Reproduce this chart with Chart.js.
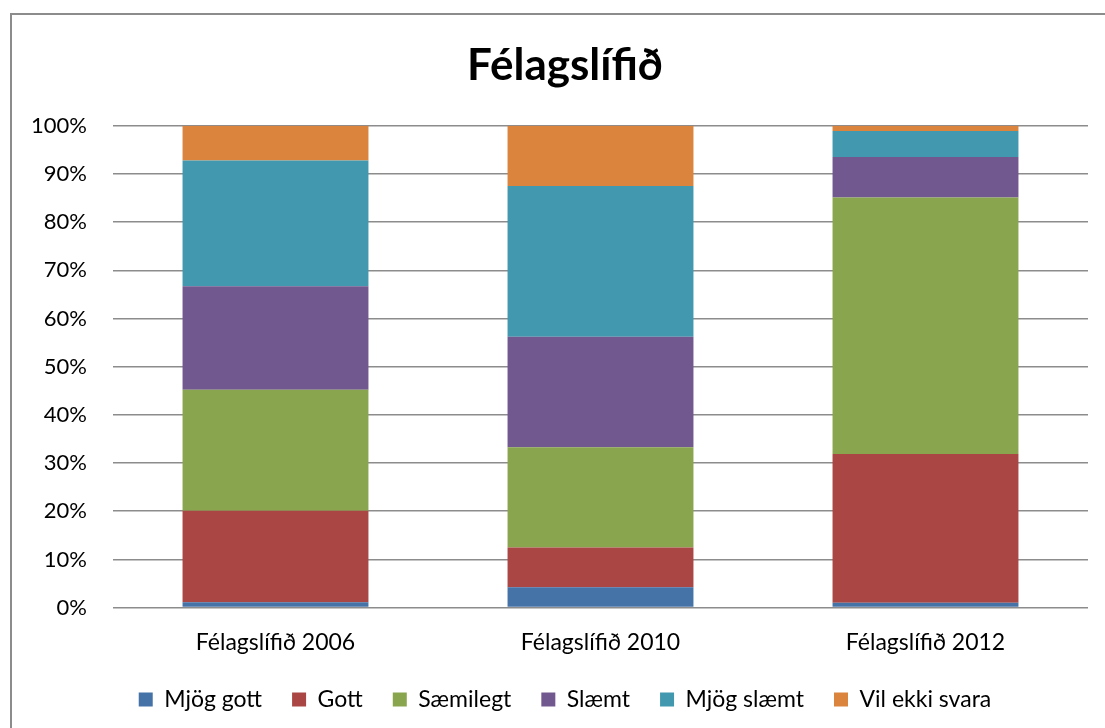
<!DOCTYPE html>
<html>
<head>
<meta charset="utf-8">
<title>Félagslífið</title>
<script src="https://cdn.jsdelivr.net/npm/chart.js@4/dist/chart.umd.min.js"></script>
<style>
    html, body { margin: 0; padding: 0; background: #fff; overflow: hidden; }
    #frame {
        position: absolute; left: 10px; top: 13px;
        width: 1200px; height: 800px;
        border-left: 2px solid #8c8c8c; border-top: 2px solid #8c8c8c;
    }
    #wrap { position: absolute; left: 0; top: 0; width: 1130px; height: 728px; }
</style>
</head>
<body>
<div id="frame"></div>
<div id="wrap"><canvas id="chart"></canvas></div>
<script>
// categories and series (percent of answers)
const categories = ["Félagslífið 2006", "Félagslífið 2010", "Félagslífið 2012"];
const mjogGott   = [1.1, 4.2, 1.0];
const gott       = [19.0, 8.3, 30.9];
const saemilegt  = [25.1, 20.8, 53.2];
const slaemt     = [21.5, 22.9, 8.4];
const mjogSlaemt = [26.1, 31.3, 5.4];
const vilEkki    = [7.2, 12.5, 1.1];
const yTicks     = [0, 10, 20, 30, 40, 50, 60, 70, 80, 90, 100];

const font = "Lato, 'Open Sans', sans-serif";

document.addEventListener("DOMContentLoaded", function () {
    const ctx = document.getElementById("chart").getContext("2d");

    const series = [
        { label: "Mjög gott", data: mjogGott, color: "#4572A7" },
        { label: "Gott", data: gott, color: "#AA4643" },
        { label: "Sæmilegt", data: saemilegt, color: "#89A54E" },
        { label: "Slæmt", data: slaemt, color: "#71588F" },
        { label: "Mjög slæmt", data: mjogSlaemt, color: "#4198AF" },
        { label: "Vil ekki svara", data: vilEkki, color: "#DB843D" }
    ];

    new Chart(ctx, {
        type: "bar",
        data: {
            labels: categories,
            datasets: series.map(s => ({
                label: s.label,
                data: s.data,
                backgroundColor: s.color,
                borderWidth: 0,
                categoryPercentage: 1,
                barPercentage: 0.572
            }))
        },
        options: {
            responsive: true,
            maintainAspectRatio: false,
            animation: false,
            layout: { padding: { left: 0, right: 0, top: 0, bottom: 7 } },
            scales: {
                x: {
                    stacked: true,
                    afterFit: axis => { axis.height = 50.4; },
                    grid: { display: false, drawTicks: false },
                    border: { display: false },
                    ticks: { color: "#000", font: { family: font, size: 23 }, padding: 20.7 }
                },
                y: {
                    stacked: true,
                    min: 0,
                    max: 100,
                    afterFit: axis => { axis.width = 113; },
                    afterBuildTicks: axis => { axis.ticks = yTicks.map(v => ({ value: v })); },
                    grid: { color: "#8c8c8c", lineWidth: 1.5, drawTicks: false },
                    border: { display: false },
                    ticks: {
                        color: "#000",
                        font: { family: font, size: 22 },
                        padding: 26,
                        callback: v => v + "%"
                    }
                },
                // empty right-hand space so title and legend centre on the frame
                yRight: {
                    position: "right",
                    min: 0,
                    max: 100,
                    afterFit: axis => { axis.width = 42; },
                    grid: { display: false, drawTicks: false },
                    border: { display: false },
                    ticks: { display: false }
                }
            },
            plugins: {
                title: {
                    display: true,
                    text: "Félagslífið",
                    color: "#000",
                    font: { family: font, size: 44, weight: "bold" },
                    padding: { top: 39, bottom: 34 }
                },
                legend: {
                    position: "bottom",
                    labels: {
                        color: "#000",
                        font: { family: font, size: 23 },
                        boxWidth: 14,
                        boxHeight: 14,
                        padding: 30
                    }
                },
                tooltip: { enabled: false }
            }
        }
    });
});
</script>
</body>
</html>
